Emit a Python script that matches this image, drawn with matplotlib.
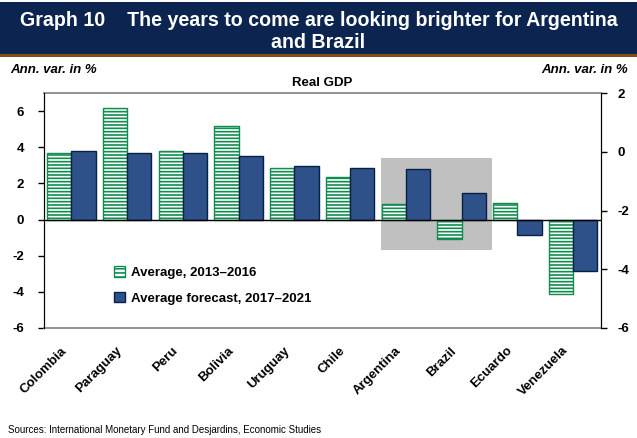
import numpy as np
import matplotlib.pyplot as plt
from matplotlib.patches import Patch, Rectangle
from matplotlib.transforms import ScaledTranslation

plt.rcParams['font.family'] = ['Liberation Sans', 'DejaVu Sans']
plt.rcParams['hatch.linewidth'] = 1.2

countries = ['Colombia', 'Paraguay', 'Peru', 'Bolivia', 'Uruguay', 'Chile',
             'Argentina', 'Brazil', 'Ecuardo', 'Venezuela']
avg_2013_2016 = [3.7, 6.15, 3.8, 5.2, 2.87, 2.35, 0.85, -1.07, 0.93, -4.13]
avg_2017_2021 = [3.8, 3.67, 3.67, 3.5, 2.98, 2.85, 2.8, 1.48, -0.85, -2.85]
left_ticks = [-6, -4, -2, 0, 2, 4, 6]
right_ticks = [-6, -4, -2, 0, 2]

green = '#118c4f'
blue = '#2e5189'
navy = '#0b2550'

fig = plt.figure(figsize=(6.37, 4.38), dpi=100)

# title banner
fig.patches.append(Rectangle((0, 1 - 54 / 438), 1, 52 / 438, transform=fig.transFigure,
                             facecolor=navy, edgecolor='none'))
fig.patches.append(Rectangle((0, 1 - 57 / 438), 1, 3 / 438, transform=fig.transFigure,
                             facecolor='#8a4b16', edgecolor='none'))
fig.text(0.5, 1 - 32 / 438, 'Graph 10    The years to come are looking brighter for Argentina\nand Brazil',
         color='white', fontsize=14.1, fontweight='bold', ha='center', va='center',
         linespacing=1.2)

ax = fig.add_axes([43.5 / 637, 1 - 328 / 438, 557.5 / 637, 235 / 438])
x = np.arange(len(countries))
w = 0.435

# highlight box for Argentina and Brazil
ax.add_patch(Rectangle((5.55, -1.7), 2.0, 5.09, facecolor='#c0c0c0', edgecolor='none', zorder=0))

ax.bar(x - w / 2, avg_2013_2016, w, facecolor='white', edgecolor=green, hatch='-----',
       linewidth=0, zorder=2)
ax.bar(x - w / 2, avg_2013_2016, w, facecolor='none', edgecolor=green, linewidth=1.0, zorder=3)
ax.bar(x + w / 2, avg_2017_2021, w, facecolor=blue, edgecolor='#0a1f44', linewidth=1.0, zorder=3)

ax.axhline(0, color='black', linewidth=1.0, zorder=4)

ax.set_xlim(-0.5, len(countries) - 0.5)
ax.set_ylim(-6, 7)
ax.set_yticks(left_ticks)
ax.set_yticklabels([str(t) for t in left_ticks], fontsize=9.5, fontweight='bold')
ax.tick_params(axis='y', length=4, width=1, pad=10)
ax.set_xticks(x)
ax.set_xticklabels(countries, rotation=45, ha='right', rotation_mode='anchor',
                   fontsize=9.5, fontweight='bold')
ax.tick_params(axis='x', length=0, pad=12)
shift = ScaledTranslation(-11 / 100, 0, fig.dpi_scale_trans)
for lbl in ax.get_xticklabels():
    lbl.set_transform(lbl.get_transform() + shift)
for s in ['top', 'bottom']:
    ax.spines[s].set_color('#7f7f7f')
    ax.spines[s].set_linewidth(1.2)

ax2 = ax.twinx()
ax2.set_ylim(-6, 2)
ax2.set_yticks(right_ticks)
ax2.set_yticklabels([str(t) for t in right_ticks], fontsize=9.5, fontweight='bold')
ax2.tick_params(axis='y', length=4, width=1, pad=8)
ax2.spines['top'].set_visible(False)
ax2.spines['bottom'].set_visible(False)

handles = [Patch(facecolor='white', edgecolor=green, hatch='----', linewidth=1.0),
           Patch(facecolor=blue, edgecolor='#0a1f44', linewidth=1.0)]
ax.legend(handles, ['Average, 2013\u20132016', 'Average forecast, 2017\u20132021'],
          loc='upper left', bbox_to_anchor=(0.115, 0.29), frameon=False,
          prop={'weight': 'bold', 'size': 9.5}, handlelength=0.8, handleheight=0.8,
          handletextpad=0.5, labelspacing=1.0, borderpad=0)

fig.text(10 / 637, 1 - 70 / 438, 'Ann. var. in %', fontsize=9.5, fontweight='bold',
         style='italic', va='center', ha='left')
fig.text(628 / 637, 1 - 70 / 438, 'Ann. var. in %', fontsize=9.5, fontweight='bold',
         style='italic', va='center', ha='right')
fig.text(322 / 637, 1 - 83 / 438, 'Real GDP', fontsize=9.5, fontweight='bold',
         va='center', ha='center')
fig.text(8 / 637, 1 - 430 / 438, 'Sources: International Monetary Fund and Desjardins, Economic Studies',
         fontsize=7, va='center', ha='left')

fig.savefig('out.png', dpi=100)
